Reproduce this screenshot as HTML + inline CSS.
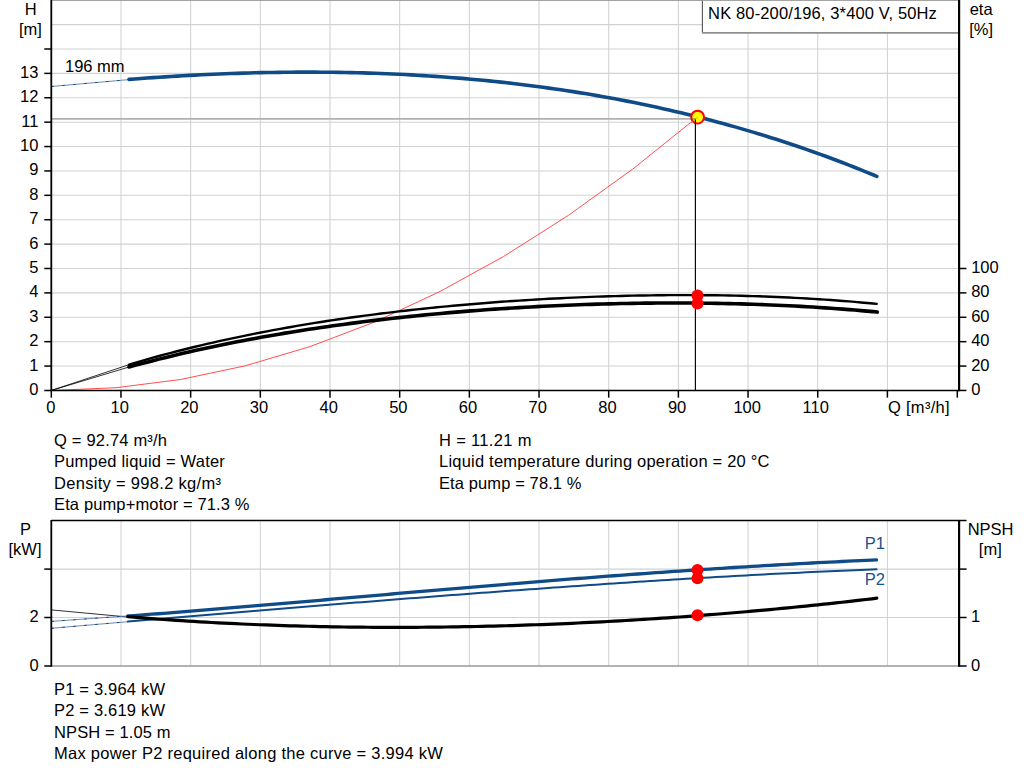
<!DOCTYPE html>
<html><head><meta charset="utf-8"><title>Pump curve</title>
<style>
html,body{margin:0;padding:0;background:#fff;}
body{width:1024px;height:781px;overflow:hidden;font-family:"Liberation Sans",sans-serif;}
svg{display:block;position:absolute;left:0;top:0;}
svg text{font-family:"Liberation Sans",sans-serif;font-size:16.5px;}
</style></head><body>
<svg width="1024" height="781" viewBox="0 0 1024 781">
<rect x="0" y="0" width="1024" height="781" fill="#ffffff"/>
<line x1="51.30" y1="366.06" x2="959.10" y2="366.06" stroke="#d0d2d3" stroke-width="1.05"/>
<line x1="51.30" y1="341.67" x2="959.10" y2="341.67" stroke="#d0d2d3" stroke-width="1.05"/>
<line x1="51.30" y1="317.28" x2="959.10" y2="317.28" stroke="#d0d2d3" stroke-width="1.05"/>
<line x1="51.30" y1="292.89" x2="959.10" y2="292.89" stroke="#d0d2d3" stroke-width="1.05"/>
<line x1="51.30" y1="268.50" x2="959.10" y2="268.50" stroke="#d0d2d3" stroke-width="1.05"/>
<line x1="51.30" y1="244.11" x2="959.10" y2="244.11" stroke="#d0d2d3" stroke-width="1.05"/>
<line x1="51.30" y1="219.72" x2="959.10" y2="219.72" stroke="#d0d2d3" stroke-width="1.05"/>
<line x1="51.30" y1="195.33" x2="959.10" y2="195.33" stroke="#d0d2d3" stroke-width="1.05"/>
<line x1="51.30" y1="170.94" x2="959.10" y2="170.94" stroke="#d0d2d3" stroke-width="1.05"/>
<line x1="51.30" y1="146.55" x2="959.10" y2="146.55" stroke="#d0d2d3" stroke-width="1.05"/>
<line x1="51.30" y1="122.16" x2="959.10" y2="122.16" stroke="#d0d2d3" stroke-width="1.05"/>
<line x1="51.30" y1="97.77" x2="959.10" y2="97.77" stroke="#d0d2d3" stroke-width="1.05"/>
<line x1="51.30" y1="73.38" x2="959.10" y2="73.38" stroke="#d0d2d3" stroke-width="1.05"/>
<line x1="51.30" y1="48.99" x2="959.10" y2="48.99" stroke="#d0d2d3" stroke-width="1.05"/>
<line x1="51.30" y1="24.60" x2="959.10" y2="24.60" stroke="#d0d2d3" stroke-width="1.05"/>
<line x1="120.97" y1="0" x2="120.97" y2="390.45" stroke="#d0d2d3" stroke-width="1.05"/>
<line x1="120.97" y1="520.50" x2="120.97" y2="666.00" stroke="#d0d2d3" stroke-width="1.05"/>
<line x1="190.65" y1="0" x2="190.65" y2="390.45" stroke="#d0d2d3" stroke-width="1.05"/>
<line x1="190.65" y1="520.50" x2="190.65" y2="666.00" stroke="#d0d2d3" stroke-width="1.05"/>
<line x1="260.32" y1="0" x2="260.32" y2="390.45" stroke="#d0d2d3" stroke-width="1.05"/>
<line x1="260.32" y1="520.50" x2="260.32" y2="666.00" stroke="#d0d2d3" stroke-width="1.05"/>
<line x1="330.00" y1="0" x2="330.00" y2="390.45" stroke="#d0d2d3" stroke-width="1.05"/>
<line x1="330.00" y1="520.50" x2="330.00" y2="666.00" stroke="#d0d2d3" stroke-width="1.05"/>
<line x1="399.68" y1="0" x2="399.68" y2="390.45" stroke="#d0d2d3" stroke-width="1.05"/>
<line x1="399.68" y1="520.50" x2="399.68" y2="666.00" stroke="#d0d2d3" stroke-width="1.05"/>
<line x1="469.35" y1="0" x2="469.35" y2="390.45" stroke="#d0d2d3" stroke-width="1.05"/>
<line x1="469.35" y1="520.50" x2="469.35" y2="666.00" stroke="#d0d2d3" stroke-width="1.05"/>
<line x1="539.02" y1="0" x2="539.02" y2="390.45" stroke="#d0d2d3" stroke-width="1.05"/>
<line x1="539.02" y1="520.50" x2="539.02" y2="666.00" stroke="#d0d2d3" stroke-width="1.05"/>
<line x1="608.70" y1="0" x2="608.70" y2="390.45" stroke="#d0d2d3" stroke-width="1.05"/>
<line x1="608.70" y1="520.50" x2="608.70" y2="666.00" stroke="#d0d2d3" stroke-width="1.05"/>
<line x1="678.38" y1="0" x2="678.38" y2="390.45" stroke="#d0d2d3" stroke-width="1.05"/>
<line x1="678.38" y1="520.50" x2="678.38" y2="666.00" stroke="#d0d2d3" stroke-width="1.05"/>
<line x1="748.05" y1="0" x2="748.05" y2="390.45" stroke="#d0d2d3" stroke-width="1.05"/>
<line x1="748.05" y1="520.50" x2="748.05" y2="666.00" stroke="#d0d2d3" stroke-width="1.05"/>
<line x1="817.73" y1="0" x2="817.73" y2="390.45" stroke="#d0d2d3" stroke-width="1.05"/>
<line x1="817.73" y1="520.50" x2="817.73" y2="666.00" stroke="#d0d2d3" stroke-width="1.05"/>
<line x1="887.40" y1="0" x2="887.40" y2="390.45" stroke="#d0d2d3" stroke-width="1.05"/>
<line x1="887.40" y1="520.50" x2="887.40" y2="666.00" stroke="#d0d2d3" stroke-width="1.05"/>
<line x1="51.30" y1="569.10" x2="959.10" y2="569.10" stroke="#d0d2d3" stroke-width="1.05"/>
<line x1="51.30" y1="617.50" x2="959.10" y2="617.50" stroke="#d0d2d3" stroke-width="1.05"/>
<line x1="51.30" y1="0.4" x2="959.10" y2="0.4" stroke="#9a9a9a" stroke-width="1.0"/>
<rect x="702.4" y="-2" width="256.70" height="34.8" fill="#fff" stroke="none"/>
<line x1="702.4" y1="0" x2="702.4" y2="33" stroke="#555" stroke-width="1.1"/>
<line x1="702" y1="32.9" x2="959.10" y2="32.9" stroke="#909090" stroke-width="1.8"/>
<line x1="702" y1="0.4" x2="959.10" y2="0.4" stroke="#9a9a9a" stroke-width="1.0"/>
<line x1="51.30" y1="118.9" x2="695.4" y2="118.9" stroke="#b0b0b0" stroke-width="1.8"/>
<polyline points="51.30,390.45 115.92,387.72 180.53,379.51 245.15,365.84 309.77,346.70 374.38,322.10 439.00,292.02 503.62,256.48 568.23,215.47 632.85,168.99 697.47,117.04" fill="none" stroke="#ff3b3b" stroke-width="0.9"/>
<path d="M51.3 86.5 L129 79.6" stroke="#5b7caa" stroke-width="0.9" fill="none"/>
<path d="M51.3 86.5 L129 79.6" stroke="#0f4b87" stroke-width="1" fill="none" stroke-dasharray="2.5 8.5"/>
<path d="M129.00 79.40 L135.00 78.94 L141.00 78.49 L147.00 78.05 L153.00 77.63 L159.00 77.23 L165.00 76.84 L171.00 76.46 L177.00 76.10 L183.00 75.75 L189.00 75.42 L195.00 75.11 L201.00 74.81 L207.00 74.52 L213.00 74.25 L219.00 74.00 L225.00 73.76 L231.00 73.54 L237.00 73.33 L243.00 73.14 L249.00 72.97 L255.00 72.81 L261.00 72.67 L267.00 72.54 L273.00 72.43 L279.00 72.34 L285.00 72.27 L291.00 72.21 L297.00 72.17 L303.00 72.15 L309.00 72.14 L315.00 72.16 L321.00 72.19 L327.00 72.24 L333.00 72.30 L339.00 72.39 L345.00 72.49 L351.00 72.61 L357.00 72.75 L363.00 72.91 L369.00 73.09 L375.00 73.29 L381.00 73.51 L387.00 73.74 L393.00 74.00 L399.00 74.28 L405.00 74.57 L411.00 74.89 L417.00 75.22 L423.00 75.58 L429.00 75.96 L435.00 76.35 L441.00 76.77 L447.00 77.21 L453.00 77.68 L459.00 78.16 L465.00 78.66 L471.00 79.19 L477.00 79.74 L483.00 80.31 L489.00 80.90 L495.00 81.52 L501.00 82.15 L507.00 82.81 L513.00 83.50 L519.00 84.21 L525.00 84.94 L531.00 85.69 L537.00 86.47 L543.00 87.27 L549.00 88.10 L555.00 88.95 L561.00 89.83 L567.00 90.73 L573.00 91.65 L579.00 92.60 L585.00 93.58 L591.00 94.58 L597.00 95.61 L603.00 96.66 L609.00 97.74 L615.00 98.85 L621.00 99.98 L627.00 101.14 L633.00 102.33 L639.00 103.55 L645.00 104.79 L651.00 106.06 L657.00 107.36 L663.00 108.69 L669.00 110.04 L675.00 111.43 L681.00 112.84 L687.00 114.28 L693.00 115.75 L699.00 117.25 L705.00 118.78 L711.00 120.34 L717.00 121.94 L723.00 123.56 L729.00 125.21 L735.00 126.89 L741.00 128.61 L747.00 130.36 L753.00 132.13 L759.00 133.95 L765.00 135.79 L771.00 137.66 L777.00 139.57 L783.00 141.51 L789.00 143.49 L795.00 145.50 L801.00 147.54 L807.00 149.61 L813.00 151.72 L819.00 153.87 L825.00 156.05 L831.00 158.26 L837.00 160.51 L843.00 162.80 L849.00 165.12 L855.00 167.48 L861.00 169.87 L867.00 172.30 L873.00 174.77 L876.80 176.35" stroke="#0f4b87" stroke-width="3.6" fill="none" stroke-linecap="round" stroke-linejoin="round"/>
<path d="M51.3 390.45 L129 364.7" stroke="#000" stroke-width="0.8" fill="none"/>
<path d="M51.3 390.45 L129 367.0" stroke="#000" stroke-width="0.8" fill="none"/>
<path d="M129.00 364.57 L135.00 362.79 L141.00 361.05 L147.00 359.34 L153.00 357.66 L159.00 356.01 L165.00 354.40 L171.00 352.81 L177.00 351.26 L183.00 349.74 L189.00 348.24 L195.00 346.78 L201.00 345.34 L207.00 343.94 L213.00 342.56 L219.00 341.20 L225.00 339.88 L231.00 338.58 L237.00 337.31 L243.00 336.06 L249.00 334.84 L255.00 333.64 L261.00 332.46 L267.00 331.31 L273.00 330.19 L279.00 329.09 L285.00 328.01 L291.00 326.95 L297.00 325.91 L303.00 324.90 L309.00 323.91 L315.00 322.94 L321.00 321.99 L327.00 321.06 L333.00 320.15 L339.00 319.26 L345.00 318.39 L351.00 317.53 L357.00 316.70 L363.00 315.89 L369.00 315.09 L375.00 314.32 L381.00 313.56 L387.00 312.82 L393.00 312.09 L399.00 311.39 L405.00 310.70 L411.00 310.02 L417.00 309.37 L423.00 308.73 L429.00 308.10 L435.00 307.50 L441.00 306.90 L447.00 306.33 L453.00 305.77 L459.00 305.22 L465.00 304.69 L471.00 304.18 L477.00 303.68 L483.00 303.19 L489.00 302.72 L495.00 302.26 L501.00 301.82 L507.00 301.39 L513.00 300.98 L519.00 300.58 L525.00 300.20 L531.00 299.83 L537.00 299.47 L543.00 299.13 L549.00 298.80 L555.00 298.48 L561.00 298.18 L567.00 297.90 L573.00 297.62 L579.00 297.36 L585.00 297.12 L591.00 296.89 L597.00 296.67 L603.00 296.47 L609.00 296.28 L615.00 296.10 L621.00 295.94 L627.00 295.79 L633.00 295.66 L639.00 295.54 L645.00 295.43 L651.00 295.34 L657.00 295.27 L663.00 295.20 L669.00 295.16 L675.00 295.12 L681.00 295.11 L687.00 295.10 L693.00 295.12 L699.00 295.15 L705.00 295.19 L711.00 295.25 L717.00 295.32 L723.00 295.41 L729.00 295.52 L735.00 295.65 L741.00 295.79 L747.00 295.94 L753.00 296.12 L759.00 296.31 L765.00 296.52 L771.00 296.74 L777.00 296.99 L783.00 297.25 L789.00 297.53 L795.00 297.83 L801.00 298.15 L807.00 298.48 L813.00 298.84 L819.00 299.22 L825.00 299.61 L831.00 300.03 L837.00 300.47 L843.00 300.93 L849.00 301.41 L855.00 301.91 L861.00 302.43 L867.00 302.98 L873.00 303.55 L876.70 303.91" stroke="#000" stroke-width="2.4" fill="none" stroke-linecap="round" stroke-linejoin="round"/>
<path d="M129.00 367.00 L135.00 365.37 L141.00 363.77 L147.00 362.19 L153.00 360.65 L159.00 359.13 L165.00 357.64 L171.00 356.18 L177.00 354.75 L183.00 353.34 L189.00 351.96 L195.00 350.61 L201.00 349.28 L207.00 347.98 L213.00 346.70 L219.00 345.44 L225.00 344.21 L231.00 343.00 L237.00 341.82 L243.00 340.66 L249.00 339.52 L255.00 338.41 L261.00 337.31 L267.00 336.24 L273.00 335.19 L279.00 334.16 L285.00 333.15 L291.00 332.17 L297.00 331.20 L303.00 330.25 L309.00 329.32 L315.00 328.42 L321.00 327.53 L327.00 326.66 L333.00 325.81 L339.00 324.97 L345.00 324.16 L351.00 323.36 L357.00 322.59 L363.00 321.82 L369.00 321.08 L375.00 320.35 L381.00 319.64 L387.00 318.95 L393.00 318.27 L399.00 317.61 L405.00 316.97 L411.00 316.34 L417.00 315.73 L423.00 315.14 L429.00 314.55 L435.00 313.99 L441.00 313.44 L447.00 312.90 L453.00 312.38 L459.00 311.88 L465.00 311.39 L471.00 310.91 L477.00 310.45 L483.00 310.01 L489.00 309.57 L495.00 309.15 L501.00 308.75 L507.00 308.36 L513.00 307.98 L519.00 307.62 L525.00 307.27 L531.00 306.94 L537.00 306.62 L543.00 306.31 L549.00 306.02 L555.00 305.74 L561.00 305.47 L567.00 305.22 L573.00 304.98 L579.00 304.75 L585.00 304.54 L591.00 304.34 L597.00 304.16 L603.00 303.99 L609.00 303.83 L615.00 303.68 L621.00 303.55 L627.00 303.44 L633.00 303.33 L639.00 303.24 L645.00 303.17 L651.00 303.11 L657.00 303.06 L663.00 303.02 L669.00 303.00 L675.00 303.00 L681.00 303.01 L687.00 303.03 L693.00 303.07 L699.00 303.12 L705.00 303.19 L711.00 303.27 L717.00 303.37 L723.00 303.48 L729.00 303.60 L735.00 303.75 L741.00 303.90 L747.00 304.08 L753.00 304.27 L759.00 304.47 L765.00 304.69 L771.00 304.93 L777.00 305.18 L783.00 305.45 L789.00 305.74 L795.00 306.05 L801.00 306.37 L807.00 306.71 L813.00 307.07 L819.00 307.44 L825.00 307.83 L831.00 308.25 L837.00 308.68 L843.00 309.12 L849.00 309.59 L855.00 310.08 L861.00 310.59 L867.00 311.12 L873.00 311.66 L877.30 312.07" stroke="#000" stroke-width="3.6" fill="none" stroke-linecap="round" stroke-linejoin="round"/>
<line x1="695.4" y1="118.5" x2="695.4" y2="390.45" stroke="#000" stroke-width="1.15"/>
<line x1="51.30" y1="0" x2="51.30" y2="391.15" stroke="#000" stroke-width="1.8"/>
<line x1="959.10" y1="0" x2="959.10" y2="391.15" stroke="#000" stroke-width="2.2"/>
<line x1="44.30" y1="390.45" x2="959.10" y2="390.45" stroke="#000" stroke-width="1.5"/>
<line x1="44.30" y1="366.06" x2="51.30" y2="366.06" stroke="#000" stroke-width="1.5"/>
<line x1="44.30" y1="341.67" x2="51.30" y2="341.67" stroke="#000" stroke-width="1.5"/>
<line x1="44.30" y1="317.28" x2="51.30" y2="317.28" stroke="#000" stroke-width="1.5"/>
<line x1="44.30" y1="292.89" x2="51.30" y2="292.89" stroke="#000" stroke-width="1.5"/>
<line x1="44.30" y1="268.50" x2="51.30" y2="268.50" stroke="#000" stroke-width="1.5"/>
<line x1="44.30" y1="244.11" x2="51.30" y2="244.11" stroke="#000" stroke-width="1.5"/>
<line x1="44.30" y1="219.72" x2="51.30" y2="219.72" stroke="#000" stroke-width="1.5"/>
<line x1="44.30" y1="195.33" x2="51.30" y2="195.33" stroke="#000" stroke-width="1.5"/>
<line x1="44.30" y1="170.94" x2="51.30" y2="170.94" stroke="#000" stroke-width="1.5"/>
<line x1="44.30" y1="146.55" x2="51.30" y2="146.55" stroke="#000" stroke-width="1.5"/>
<line x1="44.30" y1="122.16" x2="51.30" y2="122.16" stroke="#000" stroke-width="1.5"/>
<line x1="44.30" y1="97.77" x2="51.30" y2="97.77" stroke="#000" stroke-width="1.5"/>
<line x1="44.30" y1="73.38" x2="51.30" y2="73.38" stroke="#000" stroke-width="1.5"/>
<line x1="44.30" y1="48.99" x2="51.30" y2="48.99" stroke="#000" stroke-width="1.5"/>
<line x1="959.10" y1="390.45" x2="966.40" y2="390.45" stroke="#000" stroke-width="1.5"/>
<line x1="959.10" y1="366.06" x2="966.40" y2="366.06" stroke="#000" stroke-width="1.5"/>
<line x1="959.10" y1="341.67" x2="966.40" y2="341.67" stroke="#000" stroke-width="1.5"/>
<line x1="959.10" y1="317.28" x2="966.40" y2="317.28" stroke="#000" stroke-width="1.5"/>
<line x1="959.10" y1="292.89" x2="966.40" y2="292.89" stroke="#000" stroke-width="1.5"/>
<line x1="959.10" y1="268.50" x2="966.40" y2="268.50" stroke="#000" stroke-width="1.5"/>
<line x1="51.30" y1="390.45" x2="51.30" y2="397.65" stroke="#000" stroke-width="1.5"/>
<line x1="120.97" y1="390.45" x2="120.97" y2="397.65" stroke="#000" stroke-width="1.5"/>
<line x1="190.65" y1="390.45" x2="190.65" y2="397.65" stroke="#000" stroke-width="1.5"/>
<line x1="260.32" y1="390.45" x2="260.32" y2="397.65" stroke="#000" stroke-width="1.5"/>
<line x1="330.00" y1="390.45" x2="330.00" y2="397.65" stroke="#000" stroke-width="1.5"/>
<line x1="399.68" y1="390.45" x2="399.68" y2="397.65" stroke="#000" stroke-width="1.5"/>
<line x1="469.35" y1="390.45" x2="469.35" y2="397.65" stroke="#000" stroke-width="1.5"/>
<line x1="539.02" y1="390.45" x2="539.02" y2="397.65" stroke="#000" stroke-width="1.5"/>
<line x1="608.70" y1="390.45" x2="608.70" y2="397.65" stroke="#000" stroke-width="1.5"/>
<line x1="678.38" y1="390.45" x2="678.38" y2="397.65" stroke="#000" stroke-width="1.5"/>
<line x1="748.05" y1="390.45" x2="748.05" y2="397.65" stroke="#000" stroke-width="1.5"/>
<line x1="817.73" y1="390.45" x2="817.73" y2="397.65" stroke="#000" stroke-width="1.5"/>
<line x1="887.40" y1="390.45" x2="887.40" y2="397.65" stroke="#000" stroke-width="1.5"/>
<line x1="957.30" y1="390.45" x2="957.30" y2="397.65" stroke="#000" stroke-width="1.5"/>
<circle cx="697.6" cy="117.1" r="6.4" fill="#ffff00" stroke="#ff0000" stroke-width="2"/>
<line x1="690.6" y1="118.9" x2="695.4" y2="118.9" stroke="#555" stroke-opacity="0.45" stroke-width="1.8"/>
<line x1="695.4" y1="119.2" x2="695.4" y2="124.5" stroke="#000" stroke-width="1.15"/>
<line x1="691" y1="122.5" x2="697.6" y2="117.1" stroke="#ff7a1a" stroke-width="0.8"/>
<circle cx="697.5" cy="295.4" r="6" fill="#ff0000"/>
<circle cx="697.5" cy="303.6" r="6" fill="#ff0000"/>
<path d="M51.3 609.9 L127.9 617" stroke="#000" stroke-width="0.8" fill="none"/>
<path d="M51.3 621.4 L127.9 615.9" stroke="#5b7caa" stroke-width="0.9" fill="none"/>
<path d="M51.3 621.4 L127.9 615.9" stroke="#0f4b87" stroke-width="1" fill="none" stroke-dasharray="2.5 8.5"/>
<path d="M51.3 628.3 L127.9 621.7" stroke="#5b7caa" stroke-width="0.9" fill="none"/>
<path d="M51.3 628.3 L127.9 621.7" stroke="#0f4b87" stroke-width="1" fill="none" stroke-dasharray="2.5 8.5"/>
<path d="M127.90 615.99 L133.90 615.55 L139.90 615.11 L145.90 614.65 L151.90 614.20 L157.90 613.74 L163.90 613.28 L169.90 612.81 L175.90 612.34 L181.90 611.87 L187.90 611.39 L193.90 610.91 L199.90 610.42 L205.90 609.94 L211.90 609.45 L217.90 608.95 L223.90 608.46 L229.90 607.96 L235.90 607.46 L241.90 606.96 L247.90 606.45 L253.90 605.95 L259.90 605.44 L265.90 604.93 L271.90 604.42 L277.90 603.90 L283.90 603.39 L289.90 602.87 L295.90 602.35 L301.90 601.84 L307.90 601.32 L313.90 600.80 L319.90 600.28 L325.90 599.75 L331.90 599.23 L337.90 598.71 L343.90 598.19 L349.90 597.66 L355.90 597.14 L361.90 596.62 L367.90 596.09 L373.90 595.57 L379.90 595.05 L385.90 594.52 L391.90 594.00 L397.90 593.48 L403.90 592.96 L409.90 592.44 L415.90 591.92 L421.90 591.40 L427.90 590.88 L433.90 590.37 L439.90 589.85 L445.90 589.34 L451.90 588.82 L457.90 588.31 L463.90 587.80 L469.90 587.29 L475.90 586.79 L481.90 586.28 L487.90 585.78 L493.90 585.28 L499.90 584.78 L505.90 584.28 L511.90 583.79 L517.90 583.29 L523.90 582.80 L529.90 582.31 L535.90 581.83 L541.90 581.34 L547.90 580.86 L553.90 580.39 L559.90 579.91 L565.90 579.44 L571.90 578.97 L577.90 578.50 L583.90 578.03 L589.90 577.57 L595.90 577.11 L601.90 576.66 L607.90 576.21 L613.90 575.76 L619.90 575.31 L625.90 574.87 L631.90 574.43 L637.90 573.99 L643.90 573.56 L649.90 573.13 L655.90 572.71 L661.90 572.29 L667.90 571.87 L673.90 571.45 L679.90 571.04 L685.90 570.64 L691.90 570.23 L697.90 569.83 L703.90 569.44 L709.90 569.05 L715.90 568.66 L721.90 568.28 L727.90 567.90 L733.90 567.52 L739.90 567.15 L745.90 566.78 L751.90 566.42 L757.90 566.06 L763.90 565.70 L769.90 565.35 L775.90 565.01 L781.90 564.66 L787.90 564.33 L793.90 563.99 L799.90 563.66 L805.90 563.34 L811.90 563.02 L817.90 562.70 L823.90 562.39 L829.90 562.08 L835.90 561.78 L841.90 561.48 L847.90 561.19 L853.90 560.90 L859.90 560.61 L865.90 560.33 L871.90 560.06 L876.50 559.85" stroke="#0f4b87" stroke-width="3.3" fill="none" stroke-linecap="round" stroke-linejoin="round"/>
<path d="M127.90 621.56 L133.90 621.04 L139.90 620.53 L145.90 620.01 L151.90 619.50 L157.90 618.99 L163.90 618.47 L169.90 617.96 L175.90 617.45 L181.90 616.94 L187.90 616.44 L193.90 615.93 L199.90 615.42 L205.90 614.92 L211.90 614.42 L217.90 613.91 L223.90 613.41 L229.90 612.91 L235.90 612.41 L241.90 611.91 L247.90 611.41 L253.90 610.91 L259.90 610.42 L265.90 609.92 L271.90 609.43 L277.90 608.94 L283.90 608.44 L289.90 607.95 L295.90 607.46 L301.90 606.97 L307.90 606.48 L313.90 606.00 L319.90 605.51 L325.90 605.02 L331.90 604.54 L337.90 604.06 L343.90 603.58 L349.90 603.09 L355.90 602.61 L361.90 602.14 L367.90 601.66 L373.90 601.18 L379.90 600.71 L385.90 600.23 L391.90 599.76 L397.90 599.29 L403.90 598.82 L409.90 598.35 L415.90 597.89 L421.90 597.42 L427.90 596.96 L433.90 596.49 L439.90 596.03 L445.90 595.57 L451.90 595.11 L457.90 594.66 L463.90 594.20 L469.90 593.75 L475.90 593.30 L481.90 592.85 L487.90 592.40 L493.90 591.95 L499.90 591.51 L505.90 591.06 L511.90 590.62 L517.90 590.18 L523.90 589.75 L529.90 589.31 L535.90 588.88 L541.90 588.45 L547.90 588.02 L553.90 587.59 L559.90 587.17 L565.90 586.75 L571.90 586.33 L577.90 585.91 L583.90 585.49 L589.90 585.08 L595.90 584.67 L601.90 584.26 L607.90 583.86 L613.90 583.46 L619.90 583.06 L625.90 582.66 L631.90 582.27 L637.90 581.87 L643.90 581.49 L649.90 581.10 L655.90 580.72 L661.90 580.34 L667.90 579.96 L673.90 579.59 L679.90 579.22 L685.90 578.86 L691.90 578.49 L697.90 578.13 L703.90 577.78 L709.90 577.43 L715.90 577.08 L721.90 576.73 L727.90 576.39 L733.90 576.06 L739.90 575.72 L745.90 575.39 L751.90 575.07 L757.90 574.75 L763.90 574.43 L769.90 574.12 L775.90 573.81 L781.90 573.51 L787.90 573.21 L793.90 572.92 L799.90 572.63 L805.90 572.34 L811.90 572.06 L817.90 571.79 L823.90 571.52 L829.90 571.25 L835.90 570.99 L841.90 570.74 L847.90 570.49 L853.90 570.24 L859.90 570.01 L865.90 569.77 L871.90 569.54 L876.50 569.37" stroke="#0f4b87" stroke-width="2" fill="none" stroke-linecap="round" stroke-linejoin="round"/>
<path d="M127.90 616.72 L133.90 617.21 L139.90 617.69 L145.90 618.16 L151.90 618.61 L157.90 619.05 L163.90 619.48 L169.90 619.90 L175.90 620.31 L181.90 620.70 L187.90 621.08 L193.90 621.45 L199.90 621.81 L205.90 622.15 L211.90 622.48 L217.90 622.80 L223.90 623.11 L229.90 623.41 L235.90 623.70 L241.90 623.98 L247.90 624.24 L253.90 624.49 L259.90 624.73 L265.90 624.96 L271.90 625.18 L277.90 625.39 L283.90 625.59 L289.90 625.78 L295.90 625.95 L301.90 626.12 L307.90 626.27 L313.90 626.42 L319.90 626.55 L325.90 626.67 L331.90 626.78 L337.90 626.89 L343.90 626.98 L349.90 627.06 L355.90 627.13 L361.90 627.19 L367.90 627.24 L373.90 627.28 L379.90 627.31 L385.90 627.34 L391.90 627.35 L397.90 627.35 L403.90 627.34 L409.90 627.32 L415.90 627.29 L421.90 627.26 L427.90 627.21 L433.90 627.15 L439.90 627.08 L445.90 627.01 L451.90 626.92 L457.90 626.83 L463.90 626.72 L469.90 626.61 L475.90 626.49 L481.90 626.36 L487.90 626.22 L493.90 626.07 L499.90 625.91 L505.90 625.74 L511.90 625.56 L517.90 625.37 L523.90 625.18 L529.90 624.97 L535.90 624.76 L541.90 624.53 L547.90 624.30 L553.90 624.06 L559.90 623.81 L565.90 623.55 L571.90 623.29 L577.90 623.01 L583.90 622.72 L589.90 622.43 L595.90 622.13 L601.90 621.82 L607.90 621.50 L613.90 621.17 L619.90 620.83 L625.90 620.48 L631.90 620.13 L637.90 619.76 L643.90 619.39 L649.90 619.01 L655.90 618.62 L661.90 618.22 L667.90 617.82 L673.90 617.40 L679.90 616.98 L685.90 616.54 L691.90 616.10 L697.90 615.65 L703.90 615.19 L709.90 614.72 L715.90 614.25 L721.90 613.76 L727.90 613.27 L733.90 612.77 L739.90 612.25 L745.90 611.73 L751.90 611.21 L757.90 610.67 L763.90 610.12 L769.90 609.57 L775.90 609.01 L781.90 608.43 L787.90 607.85 L793.90 607.26 L799.90 606.66 L805.90 606.06 L811.90 605.44 L817.90 604.82 L823.90 604.18 L829.90 603.54 L835.90 602.89 L841.90 602.23 L847.90 601.56 L853.90 600.88 L859.90 600.19 L865.90 599.50 L871.90 598.79 L876.80 598.21" stroke="#000" stroke-width="3.2" fill="none" stroke-linecap="round" stroke-linejoin="round"/>
<line x1="51.30" y1="520.50" x2="959.10" y2="520.50" stroke="#000" stroke-width="1.3"/>
<line x1="51.30" y1="666.00" x2="959.10" y2="666.00" stroke="#999" stroke-width="1.6"/>
<line x1="51.30" y1="520.00" x2="51.30" y2="666.70" stroke="#000" stroke-width="1.8"/>
<line x1="959.10" y1="520.00" x2="959.10" y2="666.70" stroke="#000" stroke-width="2.2"/>
<line x1="44.30" y1="569.10" x2="51.30" y2="569.10" stroke="#000" stroke-width="1.5"/>
<line x1="44.30" y1="617.50" x2="51.30" y2="617.50" stroke="#000" stroke-width="1.5"/>
<line x1="44.30" y1="666.00" x2="51.30" y2="666.00" stroke="#000" stroke-width="1.5"/>
<line x1="959.10" y1="520.50" x2="966.60" y2="520.50" stroke="#000" stroke-width="1.5"/>
<line x1="959.10" y1="569.10" x2="966.60" y2="569.10" stroke="#000" stroke-width="1.5"/>
<line x1="959.10" y1="617.50" x2="966.60" y2="617.50" stroke="#000" stroke-width="1.5"/>
<line x1="959.10" y1="666.00" x2="966.60" y2="666.00" stroke="#000" stroke-width="1.5"/>
<circle cx="697.5" cy="569.9" r="6" fill="#ff0000"/>
<circle cx="697.5" cy="578.3" r="6" fill="#ff0000"/>
<circle cx="697.5" cy="615.3" r="6" fill="#ff0000"/>
<text x="38.40" y="394.95" text-anchor="end" fill="#000" font-size="16.3">0</text>
<text x="38.40" y="370.56" text-anchor="end" fill="#000" font-size="16.3">1</text>
<text x="38.40" y="346.17" text-anchor="end" fill="#000" font-size="16.3">2</text>
<text x="38.40" y="321.78" text-anchor="end" fill="#000" font-size="16.3">3</text>
<text x="38.40" y="297.39" text-anchor="end" fill="#000" font-size="16.3">4</text>
<text x="38.40" y="273.00" text-anchor="end" fill="#000" font-size="16.3">5</text>
<text x="38.40" y="248.61" text-anchor="end" fill="#000" font-size="16.3">6</text>
<text x="38.40" y="224.22" text-anchor="end" fill="#000" font-size="16.3">7</text>
<text x="38.40" y="199.83" text-anchor="end" fill="#000" font-size="16.3">8</text>
<text x="38.40" y="175.44" text-anchor="end" fill="#000" font-size="16.3">9</text>
<text x="38.40" y="151.05" text-anchor="end" fill="#000" font-size="16.3">10</text>
<text x="38.40" y="126.66" text-anchor="end" fill="#000" font-size="16.3">11</text>
<text x="38.40" y="102.27" text-anchor="end" fill="#000" font-size="16.3">12</text>
<text x="38.40" y="77.88" text-anchor="end" fill="#000" font-size="16.3">13</text>
<text x="971.20" y="394.95" text-anchor="start" fill="#000" font-size="16.3">0</text>
<text x="971.20" y="370.56" text-anchor="start" fill="#000" font-size="16.3">20</text>
<text x="971.20" y="346.17" text-anchor="start" fill="#000" font-size="16.3">40</text>
<text x="971.20" y="321.78" text-anchor="start" fill="#000" font-size="16.3">60</text>
<text x="971.20" y="297.39" text-anchor="start" fill="#000" font-size="16.3">80</text>
<text x="971.20" y="273.00" text-anchor="start" fill="#000" font-size="16.3">100</text>
<text x="50.90" y="413.00" text-anchor="middle" fill="#000" font-size="16.3">0</text>
<text x="119.67" y="413.00" text-anchor="middle" fill="#000" font-size="16.3">10</text>
<text x="189.35" y="413.00" text-anchor="middle" fill="#000" font-size="16.3">20</text>
<text x="259.02" y="413.00" text-anchor="middle" fill="#000" font-size="16.3">30</text>
<text x="328.70" y="413.00" text-anchor="middle" fill="#000" font-size="16.3">40</text>
<text x="398.38" y="413.00" text-anchor="middle" fill="#000" font-size="16.3">50</text>
<text x="468.05" y="413.00" text-anchor="middle" fill="#000" font-size="16.3">60</text>
<text x="537.73" y="413.00" text-anchor="middle" fill="#000" font-size="16.3">70</text>
<text x="607.40" y="413.00" text-anchor="middle" fill="#000" font-size="16.3">80</text>
<text x="677.08" y="413.00" text-anchor="middle" fill="#000" font-size="16.3">90</text>
<text x="747.15" y="413.00" text-anchor="middle" fill="#000" font-size="16.3">100</text>
<text x="815.73" y="413.00" text-anchor="middle" fill="#000" font-size="16.3">110</text>
<text x="888.00" y="413.00" text-anchor="start" fill="#000" textLength="61.6" lengthAdjust="spacing">Q [m³/h]</text>
<text x="30.80" y="14.80" text-anchor="middle" fill="#000">H</text>
<text x="30.40" y="35.00" text-anchor="middle" fill="#000">[m]</text>
<text x="981.10" y="14.70" text-anchor="middle" fill="#000">eta</text>
<text x="981.10" y="34.90" text-anchor="middle" fill="#000">[%]</text>
<text x="65.00" y="71.90" text-anchor="start" fill="#000">196 mm</text>
<text x="708.10" y="18.90" text-anchor="start" fill="#000" textLength="228.7" lengthAdjust="spacing">NK 80-200/196, 3*400 V, 50Hz</text>
<text x="54.00" y="445.80" text-anchor="start" fill="#000" textLength="113.0" lengthAdjust="spacing">Q = 92.74 m³/h</text>
<text x="54.00" y="467.10" text-anchor="start" fill="#000" textLength="170.8" lengthAdjust="spacing">Pumped liquid = Water</text>
<text x="54.00" y="488.50" text-anchor="start" fill="#000" textLength="167.0" lengthAdjust="spacing">Density = 998.2 kg/m³</text>
<text x="54.00" y="509.70" text-anchor="start" fill="#000" textLength="195.5" lengthAdjust="spacing">Eta pump+motor = 71.3 %</text>
<text x="439.00" y="445.80" text-anchor="start" fill="#000" textLength="92.5" lengthAdjust="spacing">H = 11.21 m</text>
<text x="439.00" y="467.10" text-anchor="start" fill="#000" textLength="330.5" lengthAdjust="spacing">Liquid temperature during operation = 20 °C</text>
<text x="439.00" y="488.50" text-anchor="start" fill="#000" textLength="142.5" lengthAdjust="spacing">Eta pump = 78.1 %</text>
<text x="25.40" y="534.80" text-anchor="middle" fill="#000">P</text>
<text x="25.00" y="554.60" text-anchor="middle" fill="#000">[kW]</text>
<text x="38.60" y="622.00" text-anchor="end" fill="#000">2</text>
<text x="38.60" y="670.60" text-anchor="end" fill="#000">0</text>
<text x="990.60" y="534.80" text-anchor="middle" fill="#000">NPSH</text>
<text x="990.30" y="555.10" text-anchor="middle" fill="#000">[m]</text>
<text x="971.00" y="621.60" text-anchor="start" fill="#000">1</text>
<text x="971.00" y="670.60" text-anchor="start" fill="#000">0</text>
<text x="864.70" y="548.80" text-anchor="start" fill="#17528f">P1</text>
<text x="864.70" y="584.70" text-anchor="start" fill="#17528f">P2</text>
<text x="54.00" y="695.00" text-anchor="start" fill="#000" textLength="111.0" lengthAdjust="spacing">P1 = 3.964 kW</text>
<text x="54.00" y="716.40" text-anchor="start" fill="#000" textLength="111.0" lengthAdjust="spacing">P2 = 3.619 kW</text>
<text x="54.00" y="737.80" text-anchor="start" fill="#000" textLength="116.5" lengthAdjust="spacing">NPSH = 1.05 m</text>
<text x="54.00" y="759.40" text-anchor="start" fill="#000" textLength="388.8" lengthAdjust="spacing">Max power P2 required along the curve = 3.994 kW</text>
</svg>
</body></html>
